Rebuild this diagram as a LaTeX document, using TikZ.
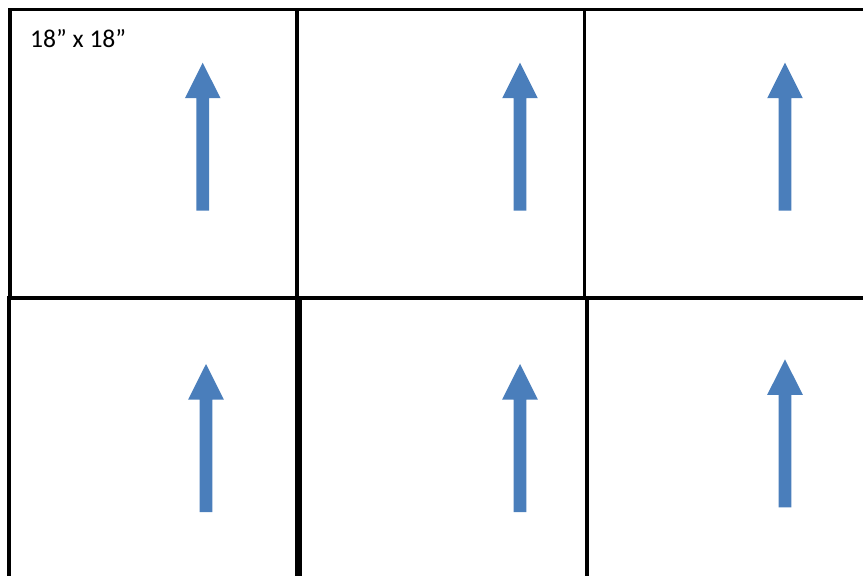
\documentclass[tikz,border=0pt]{standalone}
\usepackage{fontspec}
\setmainfont{Carlito}
\definecolor{arrowblue}{HTML}{4A7EBB}
\begin{document}
\begin{tikzpicture}[x=1pt,y=-1pt,line cap=butt,line join=miter]
  \useasboundingbox (0,0) rectangle (863,576);
  \clip (0,0) rectangle (863,576);
  % grid of tiles
  \draw[line width=3pt] (8,9.5) -- (863,9.5);
  \draw[line width=3.5pt] (10,8) -- (10,298);
  \draw[line width=4pt] (297,8) -- (297,298);
  \draw[line width=3pt] (584.5,8) -- (584.5,298);
  \draw[line width=4pt] (7,298) -- (863,298);
  \draw[line width=4pt] (9,296) -- (9,576);
  \draw[line width=7pt] (298,296) -- (298,576);
  \draw[line width=4pt] (587,296) -- (587,576);
  % tile size
  \node[anchor=base west,inner sep=0pt,font=\fontsize{25.6}{30}\selectfont] (tilesize) at (30,47) {18” x 18”};
  % direction arrows
  \foreach \ax/\ay in {202.7/62.7,520/62.7,785/62.7,206/364,520/364,785/359.3}
    \fill[arrowblue] (\ax,\ay) -- ({\ax+17.8},{\ay+35.5}) -- ({\ax+6.3},{\ay+35.5})
      -- ({\ax+6.3},{\ay+148}) -- ({\ax-6.3},{\ay+148}) -- ({\ax-6.3},{\ay+35.5})
      -- ({\ax-17.8},{\ay+35.5}) -- cycle;
\end{tikzpicture}
\end{document}
